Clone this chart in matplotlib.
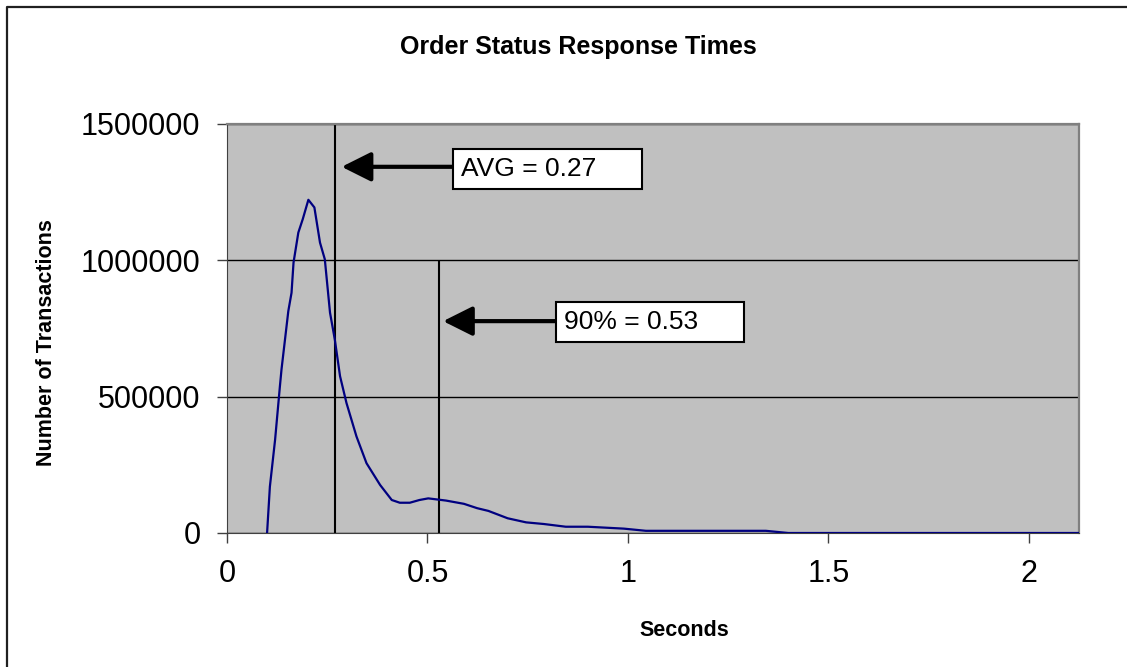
import matplotlib
matplotlib.use("Agg")
import matplotlib.pyplot as plt
from matplotlib.lines import Line2D
from matplotlib.patches import Rectangle

plt.rcParams['font.family'] = ['Liberation Sans', 'DejaVu Sans']

# response time (s) vs number of transactions
seconds = [0.10, 0.107, 0.12, 0.132, 0.136, 0.153, 0.161, 0.166, 0.178, 0.189,
           0.203, 0.218, 0.232, 0.244, 0.257, 0.269, 0.282, 0.298, 0.323, 0.348,
           0.382, 0.411, 0.431, 0.456, 0.48, 0.502, 0.546, 0.591, 0.624, 0.652,
           0.70, 0.746, 0.79, 0.845, 0.90, 0.99, 1.045, 1.344, 1.40, 2.125]
transactions = [0, 170000, 342000, 538000, 600000, 814000, 881000, 992000, 1102000, 1151000,
                1222000, 1194000, 1065000, 1004000, 808000, 709000, 575000, 477000, 354000, 256000,
                176000, 121000, 111000, 111000, 121000, 127000, 119000, 107000, 91000, 81000,
                54000, 39000, 33000, 23000, 23000, 16000, 8000, 8000, 0, 0]

avg_time = 0.27
p90_time = 0.53
avg_label = "AVG = 0.27"
p90_label = "90% = 0.53"

x_ticks = [0, 0.5, 1, 1.5, 2]
x_ticklabels = ["0", "0.5", "1", "1.5", "2"]
y_ticks = [0, 500000, 1000000, 1500000]
y_ticklabels = ["0", "500000", "1000000", "1500000"]

fig = plt.figure(figsize=(11.27, 6.67), dpi=100)
ax = fig.add_axes([0.2014, 0.2009, 0.7560, 0.6132])

# outer chart border - only left and top edges fall inside the image
fig.lines.append(Line2D([0.0065, 0.0065, 1.0], [0.0, 0.9895, 0.9895], transform=fig.transFigure,
                        color='#202020', linewidth=1.6))

ax.set_facecolor('#C0C0C0')
ax.set_xlim(0, 2.125)
ax.set_ylim(0, 1500000)

ax.set_yticks(y_ticks)
ax.set_yticklabels(y_ticklabels)
ax.set_xticks(x_ticks)
ax.set_xticklabels(x_ticklabels)
ax.yaxis.grid(True, color='black', linewidth=1)
ax.set_axisbelow(True)
ax.tick_params(axis='both', direction='out', length=7, width=1, color='#404040',
               labelsize=22, pad=12)

for side in ['top', 'right']:
    ax.spines[side].set_color('#808080')
    ax.spines[side].set_linewidth(1.6)
ax.spines['left'].set_color('#404040')
ax.spines['bottom'].set_color('#404040')

ax.plot(seconds, transactions, color='#000080', linewidth=1.6, zorder=3)

ax.vlines(avg_time, 0, 1500000, color='black', linewidth=1.5, zorder=2)
ax.vlines(p90_time, 0, 1000000, color='black', linewidth=1.5, zorder=2)

# arrows + label boxes
def label_box(tip_x, arrow_y, box_x0, box_x1, box_y0, box_y1, text):
    ax.annotate("", xy=(tip_x, arrow_y), xytext=(box_x0, arrow_y),
                arrowprops=dict(arrowstyle='-|>,head_length=0.9,head_width=0.45',
                                lw=3, color='black', shrinkA=0, shrinkB=0,
                                mutation_scale=20), zorder=4)
    ax.add_patch(Rectangle((box_x0, box_y0), box_x1 - box_x0, box_y1 - box_y0,
                           facecolor='white', edgecolor='black', linewidth=1.5, zorder=5))
    ax.text(box_x0 + 0.02, (box_y0 + box_y1) / 2, text, fontsize=19,
            ha='left', va='center', zorder=6)

label_box(0.286, 1343000, 0.5636, 1.035, 1261000, 1408000, avg_label)
label_box(0.539, 777000, 0.8204, 1.289, 702000, 849000, p90_label)

ax.set_xlabel("Seconds", fontsize=15.5, fontweight='bold')
ax.xaxis.set_label_coords(0.537, -0.213)
ax.set_ylabel("Number of Transactions", fontsize=15.5, fontweight='bold')
ax.yaxis.set_label_coords(-0.2, 0.466)

fig.text(0.513, 0.93, "Order Status Response Times", fontsize=18, fontweight='bold',
         ha='center', va='center')

fig.savefig("out.png", dpi=100)
